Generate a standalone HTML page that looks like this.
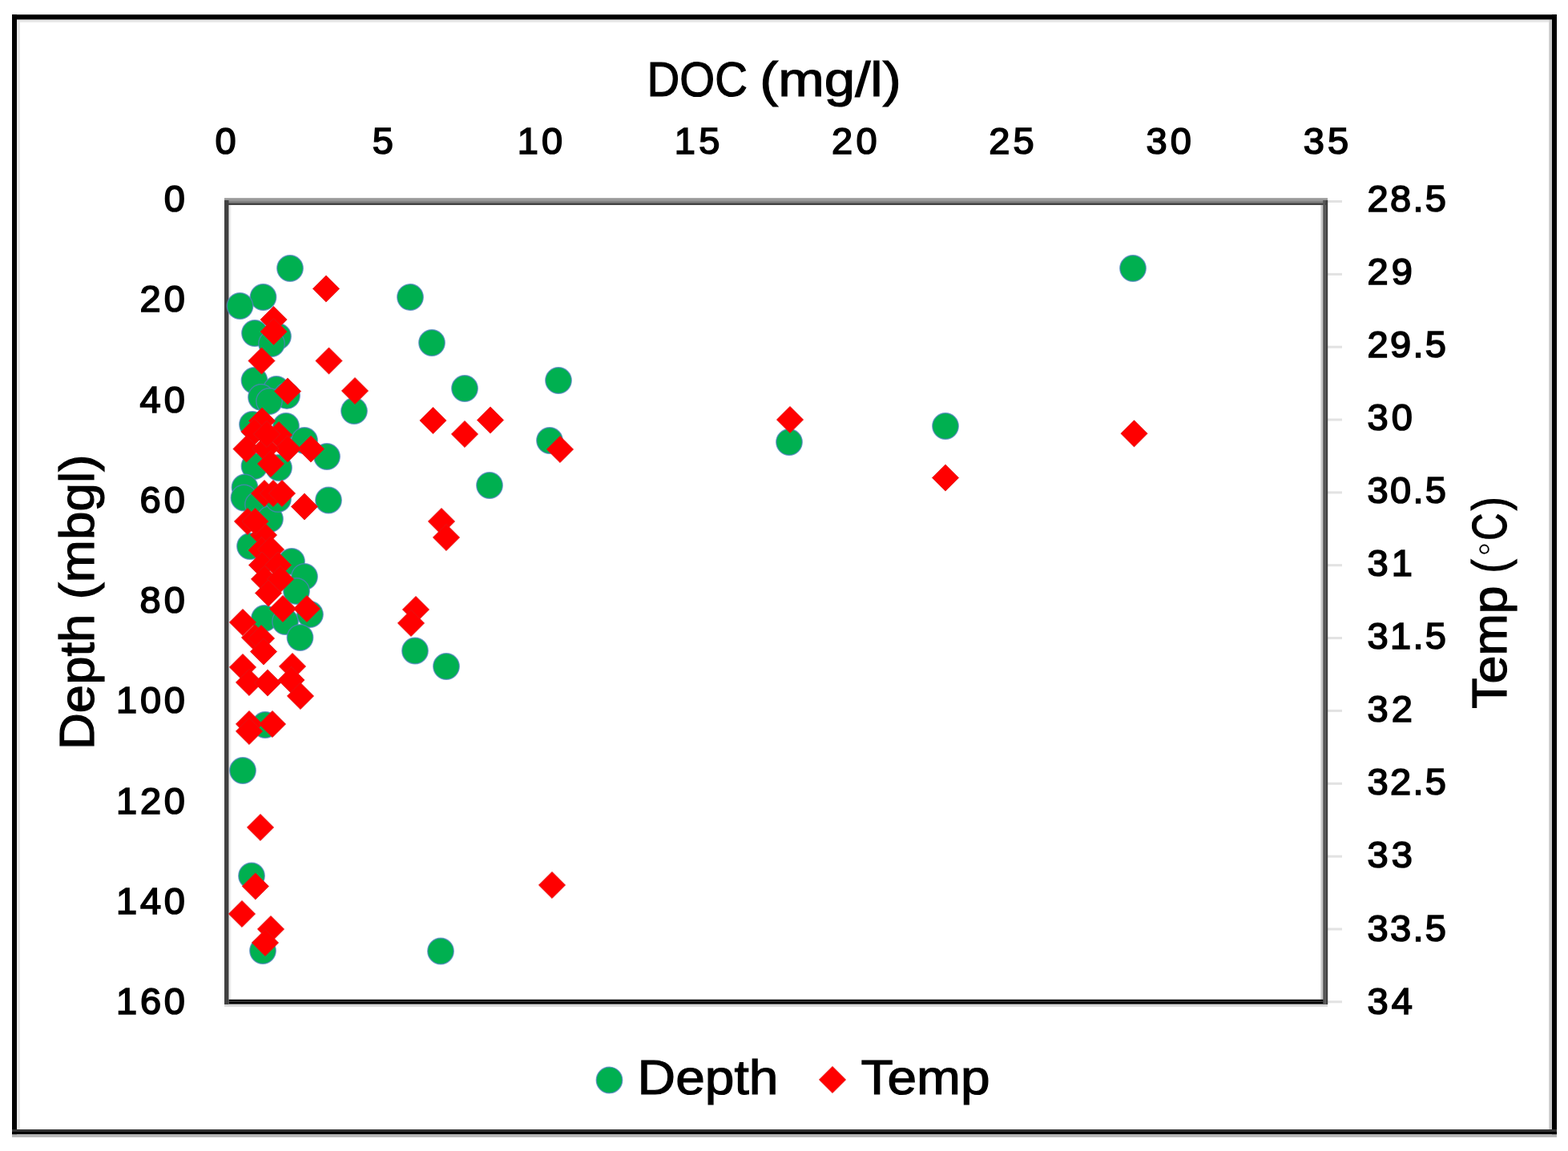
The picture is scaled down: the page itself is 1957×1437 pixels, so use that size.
<!DOCTYPE html>
<html><head><meta charset="utf-8"><title>DOC vs Depth and Temp</title>
<style>html,body{margin:0;padding:0;background:#fff;}svg{display:block;}</style>
</head><body>
<svg width="1957" height="1437" viewBox="0 0 1957 1437">
<style>text{font-family:"Liberation Sans", Arial, sans-serif;font-weight:bold;fill:#000;}.g{fill:#00b050;stroke:#4f81bd;stroke-width:1.4;stroke-opacity:.75}.r{fill:#ff0000;stroke:#e01818;stroke-width:.8}.tk{font-size:47px;font-weight:normal;stroke:#000;stroke-width:1.7px}.tt{font-size:61px;font-weight:normal;stroke:#000;stroke-width:1.2px}</style>
<rect x="0" y="0" width="1957" height="1437" fill="#fff"/>
<rect x="21" y="24.4" width="4" height="1386" fill="#e8e8e8"/>
<rect x="21" y="24.4" width="1912" height="3.4" fill="#e6e6e6"/>
<rect x="1933.3" y="24.4" width="3.7" height="1386" fill="#c8c8c8"/>
<rect x="15" y="1416" width="1928" height="3.8" fill="#b5b5b5"/>
<rect x="15" y="18.2" width="1928" height="6.2" fill="#000"/>
<rect x="15" y="18.2" width="6" height="1398" fill="#000"/>
<rect x="1937" y="18.2" width="6" height="1398" fill="#000"/>
<rect x="15" y="1410" width="1928" height="3" fill="#333"/>
<rect x="15" y="1413" width="1928" height="3" fill="#000"/>
<rect x="285.5" y="256" width="2.8" height="992" fill="#ececec"/>
<rect x="1648.4" y="256" width="2.8" height="992" fill="#c8c8c8"/>
<rect x="280" y="1253.6" width="1377" height="3.2" fill="#d8d8d8"/>
<rect x="1657" y="250.0" width="18" height="3" fill="#e2e2e2"/>
<rect x="1657" y="340.9" width="18" height="3" fill="#e2e2e2"/>
<rect x="1657" y="431.7" width="18" height="3" fill="#e2e2e2"/>
<rect x="1657" y="522.5" width="18" height="3" fill="#e2e2e2"/>
<rect x="1657" y="613.4" width="18" height="3" fill="#e2e2e2"/>
<rect x="1657" y="704.2" width="18" height="3" fill="#e2e2e2"/>
<rect x="1657" y="795.1" width="18" height="3" fill="#e2e2e2"/>
<rect x="1657" y="885.9" width="18" height="3" fill="#e2e2e2"/>
<rect x="1657" y="976.8" width="18" height="3" fill="#e2e2e2"/>
<rect x="1657" y="1067.7" width="18" height="3" fill="#e2e2e2"/>
<rect x="1657" y="1158.5" width="18" height="3" fill="#e2e2e2"/>
<rect x="1657" y="1249.3" width="18" height="3" fill="#e2e2e2"/>
<rect x="280" y="247.2" width="1377" height="3" fill="#9a9a9a"/>
<rect x="280" y="250.2" width="1377" height="3" fill="#828282"/>
<rect x="280" y="253.2" width="1377" height="2.8" fill="#444"/>
<rect x="280" y="250" width="5.5" height="1004" fill="#404040"/>
<rect x="1651.2" y="250" width="3" height="1004" fill="#555"/>
<rect x="1654.2" y="250" width="3" height="1004" fill="#404040"/>
<rect x="285.5" y="1247.8" width="1366" height="2.8" fill="#0d0d0d"/>
<rect x="285.5" y="1250.6" width="1366" height="3" fill="#000"/>
<g>
<circle cx="362" cy="335" r="16.2" class="g"/>
<circle cx="1414" cy="335" r="16.2" class="g"/>
<circle cx="328.5" cy="371" r="16.2" class="g"/>
<circle cx="299.5" cy="382" r="16.2" class="g"/>
<circle cx="512" cy="371" r="16.2" class="g"/>
<circle cx="318" cy="416" r="16.2" class="g"/>
<circle cx="347" cy="420" r="16.2" class="g"/>
<circle cx="339" cy="429" r="16.2" class="g"/>
<circle cx="539" cy="428" r="16.2" class="g"/>
<circle cx="317.5" cy="475" r="16.2" class="g"/>
<circle cx="345" cy="486" r="16.2" class="g"/>
<circle cx="358" cy="494" r="16.2" class="g"/>
<circle cx="326" cy="496" r="16.2" class="g"/>
<circle cx="336" cy="501" r="16.2" class="g"/>
<circle cx="697" cy="475" r="16.2" class="g"/>
<circle cx="580" cy="485" r="16.2" class="g"/>
<circle cx="442" cy="513" r="16.2" class="g"/>
<circle cx="315" cy="530" r="16.2" class="g"/>
<circle cx="357" cy="532" r="16.2" class="g"/>
<circle cx="1180" cy="532" r="16.2" class="g"/>
<circle cx="380" cy="550" r="16.2" class="g"/>
<circle cx="985" cy="552" r="16.2" class="g"/>
<circle cx="686" cy="550" r="16.2" class="g"/>
<circle cx="408" cy="570" r="16.2" class="g"/>
<circle cx="317.5" cy="582" r="16.2" class="g"/>
<circle cx="348" cy="584" r="16.2" class="g"/>
<circle cx="305.5" cy="608.5" r="16.2" class="g"/>
<circle cx="304.5" cy="621.5" r="16.2" class="g"/>
<circle cx="611" cy="606" r="16.2" class="g"/>
<circle cx="410" cy="624.5" r="16.2" class="g"/>
<circle cx="322" cy="630" r="16.2" class="g"/>
<circle cx="337" cy="648" r="16.2" class="g"/>
<circle cx="347" cy="623" r="16.2" class="g"/>
<circle cx="312" cy="682" r="16.2" class="g"/>
<circle cx="364" cy="701" r="16.2" class="g"/>
<circle cx="380" cy="720" r="16.2" class="g"/>
<circle cx="370" cy="738" r="16.2" class="g"/>
<circle cx="330" cy="772" r="16.2" class="g"/>
<circle cx="356" cy="776" r="16.2" class="g"/>
<circle cx="387" cy="767" r="16.2" class="g"/>
<circle cx="374.5" cy="796" r="16.2" class="g"/>
<circle cx="518" cy="812.5" r="16.2" class="g"/>
<circle cx="557" cy="832" r="16.2" class="g"/>
<circle cx="331" cy="905" r="16.2" class="g"/>
<circle cx="303" cy="962" r="16.2" class="g"/>
<circle cx="314" cy="1093.5" r="16.2" class="g"/>
<circle cx="328" cy="1187" r="16.2" class="g"/>
<circle cx="550" cy="1187.5" r="16.2" class="g"/>
</g><g>
<path d="M407 343.9L423.6 360.5L407 377.1L390.4 360.5Z" class="r"/>
<path d="M341.6 382.4L358.20000000000005 399L341.6 415.6L325.0 399Z" class="r"/>
<path d="M341.6 397.4L358.20000000000005 414L341.6 430.6L325.0 414Z" class="r"/>
<path d="M326.5 433.9L343.1 450.5L326.5 467.1L309.9 450.5Z" class="r"/>
<path d="M410.5 433.9L427.1 450.5L410.5 467.1L393.9 450.5Z" class="r"/>
<path d="M359 471.9L375.6 488.5L359 505.1L342.4 488.5Z" class="r"/>
<path d="M443 471.4L459.6 488L443 504.6L426.4 488Z" class="r"/>
<path d="M327 508.9L343.6 525.5L327 542.1L310.4 525.5Z" class="r"/>
<path d="M348 526.4L364.6 543L348 559.6L331.4 543Z" class="r"/>
<path d="M317.5 522.4L334.1 539L317.5 555.6L300.9 539Z" class="r"/>
<path d="M307.5 543.9L324.1 560.5L307.5 577.1L290.9 560.5Z" class="r"/>
<path d="M388 543.9L404.6 560.5L388 577.1L371.4 560.5Z" class="r"/>
<path d="M359 543.6999999999999L375.6 560.3L359 576.9L342.4 560.3Z" class="r"/>
<path d="M331.5 543.4L348.1 560L331.5 576.6L314.9 560Z" class="r"/>
<path d="M333 525.4L349.6 542L333 558.6L316.4 542Z" class="r"/>
<path d="M540.5 508.4L557.1 525L540.5 541.6L523.9 525Z" class="r"/>
<path d="M612 507.9L628.6 524.5L612 541.1L595.4 524.5Z" class="r"/>
<path d="M986 507.4L1002.6 524L986 540.6L969.4 524Z" class="r"/>
<path d="M580 525.4L596.6 542L580 558.6L563.4 542Z" class="r"/>
<path d="M1415.5 524.6999999999999L1432.1 541.3L1415.5 557.9L1398.9 541.3Z" class="r"/>
<path d="M699 544.4L715.6 561L699 577.6L682.4 561Z" class="r"/>
<path d="M338 562.4L354.6 579L338 595.6L321.4 579Z" class="r"/>
<path d="M1180 579.9L1196.6 596.5L1180 613.1L1163.4 596.5Z" class="r"/>
<path d="M330 599.4L346.6 616L330 632.6L313.4 616Z" class="r"/>
<path d="M341 599.4L357.6 616L341 632.6L324.4 616Z" class="r"/>
<path d="M352 599.4L368.6 616L352 632.6L335.4 616Z" class="r"/>
<path d="M380 615.9L396.6 632.5L380 649.1L363.4 632.5Z" class="r"/>
<path d="M551 634.4L567.6 651L551 667.6L534.4 651Z" class="r"/>
<path d="M309 634.4L325.6 651L309 667.6L292.4 651Z" class="r"/>
<path d="M329 651.4L345.6 668L329 684.6L312.4 668Z" class="r"/>
<path d="M557 654.4L573.6 671L557 687.6L540.4 671Z" class="r"/>
<path d="M326.6 670.4L343.20000000000005 687L326.6 703.6L310.0 687Z" class="r"/>
<path d="M338 669.4L354.6 686L338 702.6L321.4 686Z" class="r"/>
<path d="M318.5 634.4L335.1 651L318.5 667.6L301.9 651Z" class="r"/>
<path d="M327 688.9L343.6 705.5L327 722.1L310.4 705.5Z" class="r"/>
<path d="M347 688.9L363.6 705.5L347 722.1L330.4 705.5Z" class="r"/>
<path d="M330 706.4L346.6 723L330 739.6L313.4 723Z" class="r"/>
<path d="M350 706.4L366.6 723L350 739.6L333.4 723Z" class="r"/>
<path d="M335 723.9L351.6 740.5L335 757.1L318.4 740.5Z" class="r"/>
<path d="M353 743.4L369.6 760L353 776.6L336.4 760Z" class="r"/>
<path d="M383 743.4L399.6 760L383 776.6L366.4 760Z" class="r"/>
<path d="M519 744.4L535.6 761L519 777.6L502.4 761Z" class="r"/>
<path d="M303 760.4L319.6 777L303 793.6L286.4 777Z" class="r"/>
<path d="M513 761.4L529.6 778L513 794.6L496.4 778Z" class="r"/>
<path d="M318 779.4L334.6 796L318 812.6L301.4 796Z" class="r"/>
<path d="M326 780.4L342.6 797L326 813.6L309.4 797Z" class="r"/>
<path d="M329 796.9L345.6 813.5L329 830.1L312.4 813.5Z" class="r"/>
<path d="M303 816.4L319.6 833L303 849.6L286.4 833Z" class="r"/>
<path d="M365 815.4L381.6 832L365 848.6L348.4 832Z" class="r"/>
<path d="M311 835.4L327.6 852L311 868.6L294.4 852Z" class="r"/>
<path d="M334 835.9L350.6 852.5L334 869.1L317.4 852.5Z" class="r"/>
<path d="M363.5 832.4L380.1 849L363.5 865.6L346.9 849Z" class="r"/>
<path d="M375 852.4L391.6 869L375 885.6L358.4 869Z" class="r"/>
<path d="M311 887.4L327.6 904L311 920.6L294.4 904Z" class="r"/>
<path d="M311 896.4L327.6 913L311 929.6L294.4 913Z" class="r"/>
<path d="M340 887.4L356.6 904L340 920.6L323.4 904Z" class="r"/>
<path d="M325 1016.4L341.6 1033L325 1049.6L308.4 1033Z" class="r"/>
<path d="M318.8 1089.9L335.40000000000003 1106.5L318.8 1123.1L302.2 1106.5Z" class="r"/>
<path d="M689 1088.4L705.6 1105L689 1121.6L672.4 1105Z" class="r"/>
<path d="M302 1124.4L318.6 1141L302 1157.6L285.4 1141Z" class="r"/>
<path d="M338 1143.4L354.6 1160L338 1176.6L321.4 1160Z" class="r"/>
<path d="M331 1160.4L347.6 1177L331 1193.6L314.4 1177Z" class="r"/>
</g>
<text class="tk" x="281.5" y="191.8" text-anchor="middle">0</text>
<text class="tk" x="477.7" y="191.8" text-anchor="middle">5</text>
<text class="tk" x="673.9" y="191.8" text-anchor="middle" textLength="56.5" lengthAdjust="spacing">10</text>
<text class="tk" x="870.1" y="191.8" text-anchor="middle" textLength="56.5" lengthAdjust="spacing">15</text>
<text class="tk" x="1066.3" y="191.8" text-anchor="middle" textLength="56.5" lengthAdjust="spacing">20</text>
<text class="tk" x="1262.5" y="191.8" text-anchor="middle" textLength="56.5" lengthAdjust="spacing">25</text>
<text class="tk" x="1458.7" y="191.8" text-anchor="middle" textLength="56.5" lengthAdjust="spacing">30</text>
<text class="tk" x="1654.9" y="191.8" text-anchor="middle" textLength="56.5" lengthAdjust="spacing">35</text>
<text class="tk" x="231" y="264.0" text-anchor="end">0</text>
<text class="tk" x="231" y="389.2" text-anchor="end" textLength="56.5" lengthAdjust="spacing">20</text>
<text class="tk" x="231" y="514.5" text-anchor="end" textLength="56.5" lengthAdjust="spacing">40</text>
<text class="tk" x="231" y="639.8" text-anchor="end" textLength="56.5" lengthAdjust="spacing">60</text>
<text class="tk" x="231" y="765.0" text-anchor="end" textLength="56.5" lengthAdjust="spacing">80</text>
<text class="tk" x="231" y="890.2" text-anchor="end" textLength="86" lengthAdjust="spacing">100</text>
<text class="tk" x="231" y="1015.5" text-anchor="end" textLength="86" lengthAdjust="spacing">120</text>
<text class="tk" x="231" y="1140.8" text-anchor="end" textLength="86" lengthAdjust="spacing">140</text>
<text class="tk" x="231" y="1266.0" text-anchor="end" textLength="86" lengthAdjust="spacing">160</text>
<text class="tk" x="1706.5" y="264.0" textLength="98.5" lengthAdjust="spacing">28.5</text>
<text class="tk" x="1706.5" y="355.1" textLength="56.5" lengthAdjust="spacing">29</text>
<text class="tk" x="1706.5" y="446.1" textLength="98.5" lengthAdjust="spacing">29.5</text>
<text class="tk" x="1706.5" y="537.1" textLength="56.5" lengthAdjust="spacing">30</text>
<text class="tk" x="1706.5" y="628.2" textLength="98.5" lengthAdjust="spacing">30.5</text>
<text class="tk" x="1706.5" y="719.2" textLength="56.5" lengthAdjust="spacing">31</text>
<text class="tk" x="1706.5" y="810.3" textLength="98.5" lengthAdjust="spacing">31.5</text>
<text class="tk" x="1706.5" y="901.4" textLength="56.5" lengthAdjust="spacing">32</text>
<text class="tk" x="1706.5" y="992.4" textLength="98.5" lengthAdjust="spacing">32.5</text>
<text class="tk" x="1706.5" y="1083.4" textLength="56.5" lengthAdjust="spacing">33</text>
<text class="tk" x="1706.5" y="1174.5" textLength="98.5" lengthAdjust="spacing">33.5</text>
<text class="tk" x="1706.5" y="1265.5" textLength="56.5" lengthAdjust="spacing">34</text>
<g>
<text class="tt" x="807.5" y="120" textLength="125.4" lengthAdjust="spacingAndGlyphs">DOC</text>
<text class="tt" x="948.3" y="120" textLength="176.4" lengthAdjust="spacingAndGlyphs">(mg/l)</text>
</g><g>
<text class="tt" transform="translate(117 936.0) rotate(-90)" textLength="169.4" lengthAdjust="spacingAndGlyphs">Depth</text>
<text class="tt" transform="translate(117 748.4) rotate(-90)" textLength="180.8" lengthAdjust="spacingAndGlyphs">(mbgl)</text>
</g><g>
<text class="tt" transform="translate(1879.5 884.8) rotate(-90)" textLength="153.3" lengthAdjust="spacingAndGlyphs">Temp</text>
<text class="tt" transform="translate(1879.5 715.4) rotate(-90)" textLength="17.2" lengthAdjust="spacingAndGlyphs">(</text>
<text class="tt" transform="translate(1879.5 685.6) rotate(-90)" text-anchor="middle" dy="-12" style="font-size:50px;stroke-width:0">◦</text>
<text class="tt" transform="translate(1879.5 674.8) rotate(-90)" textLength="34.2" lengthAdjust="spacingAndGlyphs">C</text>
<text class="tt" transform="translate(1879.5 637.3) rotate(-90)" textLength="16.9" lengthAdjust="spacingAndGlyphs">)</text>
</g>
<circle cx="760.5" cy="1348.5" r="16.2" class="g"/>
<path d="M1039 1331.4L1055.6 1348L1039 1364.6L1022.4 1348Z" class="r"/>
<text class="tt" x="795.6" y="1366" textLength="175.8" lengthAdjust="spacingAndGlyphs">Depth</text>
<text class="tt" x="1074.6" y="1366" textLength="160.9" lengthAdjust="spacingAndGlyphs">Temp</text>
</svg>
</body></html>
